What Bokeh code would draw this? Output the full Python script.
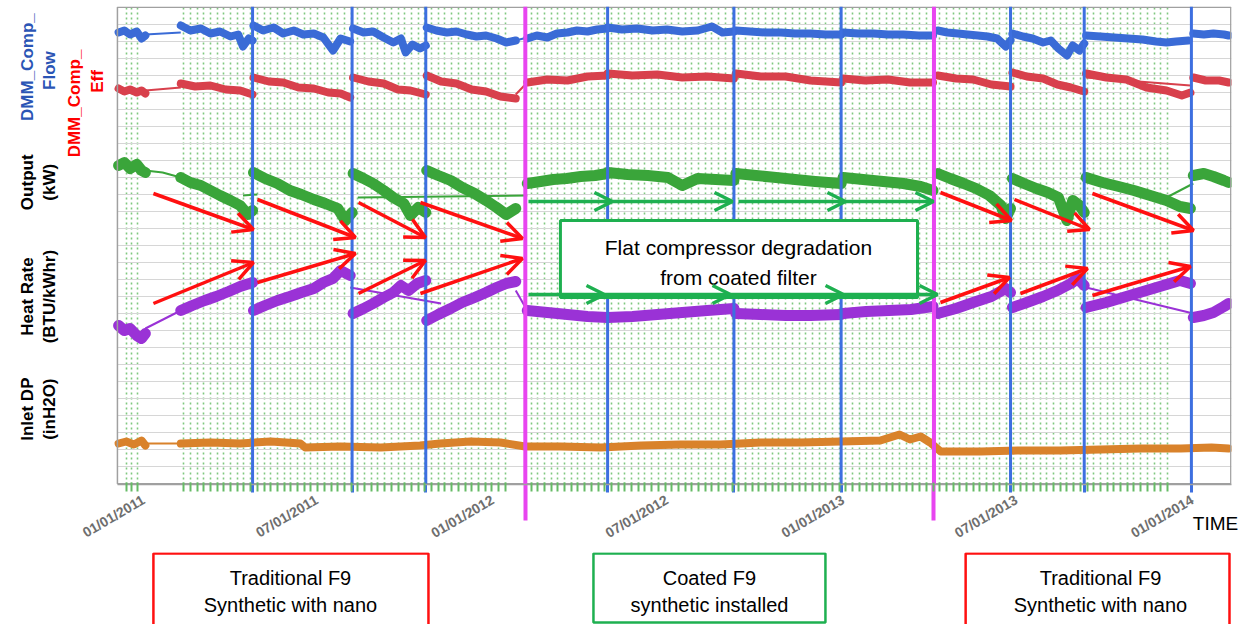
import math
import pandas as pd
from bokeh.plotting import figure
from bokeh.models import (Range1d, FixedTicker, Grid, Label, Arrow, OpenHead,
                          DatetimeTickFormatter, DatetimeAxis)
from bokeh.layouts import column, row
from bokeh.embed import file_html
from bokeh.resources import INLINE

# ---------------------------------------------------------------- data
# x values are days counted from 2011-01-01, y values are in plot units
BASE_MS = pd.Timestamp("2011-01-01").value / 1e6
DAY_MS = 86400000.0


def t(d):
    return BASE_MS + d * DAY_MS


def tl(lst):
    return [t(d) for d in lst]


tick_dates = ["2011-01-01", "2011-07-01", "2012-01-01", "2012-07-01",
              "2013-01-01", "2013-07-01", "2014-01-01"]

# offline wash events (blue) and filter changes (magenta)
wash_days = [114, 218, 295, 485, 617, 729, 906, 983, 1095]
filter_change_days = [399, 826]

# DMM_Comp_Flow
flow_days = [
    [-26, -20, -14, -7, -2, 2],
    [39, 49, 60, 70, 80, 91, 99, 104, 110, 114],
    [115, 125, 136, 146, 157, 167, 178, 188, 198, 206, 216],
    [219, 230, 240, 251, 261, 269, 274, 281, 289, 295],
    [296, 306, 317, 327, 338, 348, 358, 369, 379, 389],
    [401, 411, 422, 432, 443, 453, 464, 474, 485],
    [485, 500, 516, 532, 547, 563, 579, 594, 605, 617],
    [619, 634, 650, 666, 681, 697, 713, 729],
    [731, 747, 763, 778, 794, 810, 825],
    [830, 840, 851, 861, 872, 882, 892, 901, 906],
    [908, 919, 929, 940, 948, 956, 965, 971, 978, 983],
    [985, 1000, 1014, 1029, 1044, 1058, 1069, 1079, 1092],
    [1097, 1108, 1118, 1129, 1134],
]
flow_vals = [
    [454, 456, 452, 455, 448, 451],
    [461, 456, 458, 453, 455, 450, 452, 440, 448, 446],
    [461, 456, 459, 453, 456, 452, 453, 449, 436, 448, 445],
    [458, 454, 455, 449, 444, 448, 434, 442, 438, 441],
    [459, 456, 454, 455, 452, 450, 451, 448, 444, 446],
    [448, 451, 449, 453, 454, 456, 455, 457, 458],
    [459, 457, 458, 456, 457, 455, 456, 460, 454, 455],
    [456, 455, 454, 454, 453, 453, 452, 452],
    [454, 453, 453, 452, 452, 451, 451],
    [456, 454, 453, 452, 451, 450, 448, 440, 446],
    [453, 450, 448, 444, 446, 438, 431, 441, 436, 443],
    [451, 450, 449, 448, 447, 445, 444, 445, 446],
    [453, 452, 453, 452, 451],
]
flow_link_days = [[2, 39], [389, 401]]
flow_link_vals = [[452, 454], [446, 449]]

# DMM_Comp_Eff
eff_days = [
    [-26, -20, -14, -7, -2, 2],
    [39, 54, 70, 86, 101, 114],
    [115, 131, 146, 162, 178, 193, 206, 216],
    [219, 235, 251, 266, 279, 295],
    [296, 311, 327, 343, 358, 373, 389],
    [401, 422, 443, 464, 485],
    [485, 511, 537, 563, 589, 617],
    [619, 645, 671, 697, 729],
    [731, 754, 778, 801, 825],
    [830, 849, 867, 886, 906],
    [908, 923, 940, 955, 969, 983],
    [985, 1006, 1027, 1048, 1069, 1085, 1094],
    [1097, 1110, 1124, 1134],
]
eff_vals = [
    [398, 395, 397, 394, 396, 393],
    [403, 400, 401, 397, 396, 392],
    [409, 405, 404, 399, 398, 394, 393, 389],
    [409, 405, 403, 397, 396, 392],
    [411, 405, 403, 397, 395, 390, 388],
    [404, 407, 406, 410, 411],
    [413, 411, 412, 409, 410, 408],
    [413, 410, 410, 406, 404],
    [408, 406, 407, 404, 404],
    [411, 408, 407, 402, 400],
    [414, 410, 408, 402, 399, 395],
    [413, 409, 407, 399, 396, 391, 394],
    [409, 406, 406, 404],
]
eff_link_days = [[2, 39], [389, 401], [985, 1094]]
eff_link_vals = [[396, 399], [392, 404], [409, 401]]

# Output (kW)
out_days = [
    [-26, -20, -14, -7, -2, 2],
    [39, 49, 60, 70, 80, 91, 101, 109, 114],
    [115, 127, 140, 153, 165, 178, 190, 203, 211, 218],
    [219, 230, 240, 251, 261, 272, 279, 287, 295],
    [296, 308, 321, 333, 346, 358, 369, 379, 389],
    [401, 415, 428, 442, 457, 472, 485],
    [485, 506, 527, 548, 563, 579, 598, 617],
    [619, 640, 661, 681, 702, 729],
    [731, 752, 773, 794, 812, 825],
    [830, 843, 857, 870, 884, 896, 901, 906],
    [908, 920, 933, 945, 956, 965, 971, 978, 983],
    [985, 1002, 1019, 1035, 1052, 1069, 1083, 1094],
    [1097, 1108, 1118, 1129, 1134],
]
out_vals = [
    [321, 324, 318, 322, 316, 314],
    [309, 304, 301, 296, 291, 286, 281, 272, 276],
    [314, 308, 303, 296, 292, 287, 283, 278, 266, 274],
    [313, 308, 303, 296, 289, 283, 271, 279, 274],
    [316, 311, 306, 299, 293, 286, 279, 272, 278],
    [303, 305, 307, 308, 310, 311, 313],
    [314, 312, 311, 309, 301, 308, 307, 306],
    [313, 311, 309, 307, 305, 303],
    [309, 307, 305, 303, 300, 296],
    [313, 308, 303, 298, 291, 281, 268, 278],
    [308, 303, 298, 294, 289, 266, 286, 281, 274],
    [309, 304, 300, 296, 291, 286, 280, 278],
    [311, 313, 310, 306, 304],
]
out_link_days = [[2, 20, 39], [104, 119], [224, 401], [1063, 1097]]
out_link_vals = [[316, 314, 309], [291, 292], [289, 291], [286, 303]]

# Heat Rate (BTU/kWhr)
heat_days = [
    [-26, -20, -14, -7, -2, 2],
    [39, 51, 64, 76, 89, 101, 114],
    [115, 127, 140, 153, 165, 178, 188, 198, 206, 216],
    [219, 230, 240, 251, 261, 269, 277, 286, 295],
    [296, 308, 321, 333, 346, 358, 369, 379, 389],
    [401, 422, 443, 464, 485],
    [485, 511, 537, 563, 589, 617],
    [619, 645, 671, 697, 729],
    [731, 755, 779, 802, 825],
    [830, 849, 867, 886, 901, 906],
    [908, 923, 940, 955, 969, 976, 983],
    [985, 1006, 1027, 1048, 1069, 1083, 1094],
    [1097, 1108, 1118, 1129, 1134],
]
heat_vals = [
    [161, 156, 158, 151, 148, 153],
    [176, 181, 186, 190, 195, 200, 204],
    [176, 181, 186, 190, 194, 198, 204, 208, 216, 211],
    [173, 178, 183, 189, 194, 201, 196, 203, 206],
    [166, 172, 178, 184, 189, 194, 199, 203, 205],
    [176, 174, 172, 170, 169],
    [169, 170, 172, 174, 176, 178],
    [173, 172, 171, 171, 172],
    [173, 175, 176, 177, 180],
    [173, 178, 184, 190, 198, 194],
    [179, 184, 190, 196, 203, 208, 201],
    [179, 184, 190, 196, 202, 206, 203],
    [169, 171, 174, 180, 183],
]
heat_link_days = [[2, 39], [216, 311], [389, 401], [985, 1097]]
heat_link_vals = [[158, 176], [199, 183], [196, 176], [199, 173]]

# Inlet DP (inH2O)
dp_days = [
    [-26, -18, -10, -2, 2],
    [39, 70, 101, 133, 164, 169, 206, 248, 289, 310, 342, 373, 399,
     436, 478, 520, 561, 603, 645, 687, 729, 770, 790, 801, 812, 822,
     833, 875, 916, 958, 1000, 1042, 1084, 1116, 1134],
]
dp_vals = [
    [43, 45, 42, 46, 41],
    [43, 44, 43, 45, 43, 39, 40, 39, 41, 43, 45, 44, 40,
     40, 39, 41, 42, 42, 44, 44, 45, 46, 52, 47, 50, 44,
     35, 35, 36, 36, 37, 38, 38, 39, 38],
]
dp_link_days = [[2, 39]]
dp_link_vals = [[43, 43]]

# dotted marker grid (weekly records) and horizontal grid
record_grid_days = [-18, -12, -6] + list(range(42, 381, 7)) + list(range(405, 1076, 7))
h_grid_vals = list(range(20, 480, 17))

# ---------------------------------------------------------------- styles
C_FLOW = "#3A6BD6"
C_EFF = "#D8404C"
C_OUT = "#3AA53A"
C_HEAT = "#9A32D6"
C_DP = "#D9822B"
C_WASH = "#3D6FE0"
C_MAG = "#E845F0"
C_RED = "#FF1010"
C_GRN = "#1EB050"
FONT = "Liberation Sans"

W_TOTAL = 1240
W_LEFT = 62
H_TOP = 552
H_BOT = 72
CHART_START = -27.2
CHART_END = 1136.9
TIME_CAPTION_DAY = 1120.2   # where the "TIME" caption is centred

x_range = Range1d(t(-84.6), t(CHART_END))
p = figure(width=W_TOTAL - W_LEFT, height=H_TOP, x_range=x_range,
           y_range=Range1d(2, 480), x_axis_type=None, y_axis_type=None,
           output_backend="svg", toolbar_location=None,
           min_border_left=0, min_border_right=9, min_border_top=6,
           min_border_bottom=68)
p.background_fill_color = "white"
p.outline_line_color = None

p.add_layout(Grid(dimension=0, ticker=FixedTicker(ticks=tl(record_grid_days)),
                  grid_line_color="#80c880", grid_line_dash="2 3",
                  grid_line_width=1.6))
p.segment(x0=[t(CHART_START)] * len(h_grid_vals), y0=h_grid_vals,
          x1=[t(CHART_END)] * len(h_grid_vals), y1=h_grid_vals,
          line_color="#d6d6d6", line_width=1)


def tick_only_axis(days, color, width, length):
    ticks = tl(days)
    return DatetimeAxis(ticker=FixedTicker(ticks=ticks, minor_ticks=[]),
                        axis_line_color=None, major_tick_line_color=color,
                        major_tick_line_width=width, major_tick_in=-length,
                        major_tick_out=0, minor_tick_line_color=None,
                        major_label_overrides={tk: "" for tk in ticks},
                        major_label_text_color=None,
                        major_label_text_font_size="1px",
                        major_label_standoff=0)


# tick-only axes carrying the event marks below the frame
p.add_layout(tick_only_axis(filter_change_days, C_MAG, 4, 36), "below")
p.add_layout(tick_only_axis(wash_days, C_WASH, 3, 8), "below")

fmt = "%m/%d/%Y"
date_axis = DatetimeAxis(
    bounds=(t(CHART_START), t(CHART_END)),
    ticker=FixedTicker(ticks=[pd.Timestamp(s).value / 1e6 for s in tick_dates],
                       minor_ticks=tl(record_grid_days)),
    formatter=DatetimeTickFormatter(
        microseconds=fmt, milliseconds=fmt, seconds=fmt, minsec=fmt, minutes=fmt,
        hourmin=fmt, hours=fmt, days=fmt, months=fmt, years=fmt),
    major_label_orientation=0.53,
    major_tick_line_color=None, major_tick_out=0, major_tick_in=0,
    minor_tick_line_color="#66bb66", minor_tick_line_width=2,
    minor_tick_in=2, minor_tick_out=7,
    axis_line_color="#a0a0a0", axis_line_width=1.5,
    major_label_text_color="#6e6e6e", major_label_text_font=FONT,
    major_label_text_font_style="bold", major_label_text_font_size="14px",
    major_label_standoff=7)
p.add_layout(date_axis, "below")

# the "TIME" caption, carried by a label-only axis pulled up under the dates
time_tick = t(TIME_CAPTION_DAY)
time_axis = DatetimeAxis(
    ticker=FixedTicker(ticks=[time_tick], minor_ticks=[]),
    major_label_overrides={time_tick: "TIME"},
    major_label_orientation="horizontal",
    axis_line_color=None, major_tick_line_color=None, minor_tick_line_color=None,
    major_tick_in=0, major_tick_out=0,
    major_label_text_font=FONT, major_label_text_font_size="19px",
    major_label_text_color="black", major_label_standoff=-38)
p.add_layout(time_axis, "below")


def draw_series(seg_days, seg_vals, link_days, link_vals, color, width):
    p.multi_line(xs=[tl(s) for s in link_days], ys=link_vals,
                 line_color=color, line_width=2)
    p.multi_line(xs=[tl(s) for s in seg_days], ys=seg_vals,
                 line_color=color, line_width=width,
                 line_join="round", line_cap="round")


draw_series(flow_days, flow_vals, flow_link_days, flow_link_vals, C_FLOW, 8)
draw_series(eff_days, eff_vals, eff_link_days, eff_link_vals, C_EFF, 8)
draw_series(out_days, out_vals, out_link_days, out_link_vals, C_OUT, 11)
draw_series(heat_days, heat_vals, heat_link_days, heat_link_vals, C_HEAT, 11)
draw_series(dp_days, dp_vals, dp_link_days, dp_link_vals, C_DP, 8)

# chart border
p.quad(left=[t(CHART_START)], right=[t(1136.2)], bottom=[2.7], top=[479.3],
       fill_color=None, line_color="#a0a0a0", line_width=1.5)

# wash events
p.segment(x0=tl(wash_days), y0=[2] * len(wash_days),
          x1=tl(wash_days), y1=[480] * len(wash_days),
          line_color=C_WASH, line_width=3)

# filter changes
p.segment(x0=tl(filter_change_days), y0=[2] * len(filter_change_days),
          x1=tl(filter_change_days), y1=[480] * len(filter_change_days),
          line_color=C_MAG, line_width=4)

# callout box
p.quad(left=[t(435.7)], right=[t(808.8)], top=[266], bottom=[189],
       fill_color="white", line_color=C_GRN, line_width=3)
p.add_layout(Label(x=t(621.7), y=239, text="Flat compressor degradation",
                   text_align="center", text_baseline="middle",
                   text_font=FONT, text_font_size="21px", text_color="black"))
p.add_layout(Label(x=t(621.7), y=209, text="from coated filter",
                   text_align="center", text_baseline="middle",
                   text_font=FONT, text_font_size="21px", text_color="black"))

# degradation arrows
red_arrows = [
    (10.4, 293, 114.9, 257), (119.1, 287, 221.5, 249), (224.7, 284, 294.7, 249),
    (289.4, 284, 396.0, 248), (832.8, 294, 907.0, 266), (910.1, 287, 988.5, 257),
    (991.6, 293, 1097.2, 256),
    (10.4, 183, 114.9, 224), (119.1, 204, 221.5, 233), (224.7, 193, 294.7, 226),
    (289.4, 193, 396.0, 228), (832.8, 184, 904.9, 209), (916.4, 193, 986.4, 218),
    (991.6, 191, 1094.0, 220),
]
for x0, y0, x1, y1 in red_arrows:
    p.add_layout(Arrow(end=OpenHead(size=20, line_color=C_RED, line_width=3.5),
                       x_start=t(x0), y_start=y0, x_end=t(x1), y_end=y1,
                       line_color=C_RED, line_width=3.5))

green_arrows = [
    (402.3, 285, 490.0, 285), (490.0, 285, 615.5, 285), (621.7, 285, 733.5, 285),
    (733.5, 285, 825.5, 285),
    (402.3, 192, 481.7, 192), (481.7, 192, 613.4, 192), (613.4, 192, 731.5, 192),
    (731.5, 192, 829.7, 192),
]
for x0, y0, x1, y1 in green_arrows:
    p.add_layout(Arrow(end=OpenHead(size=18, line_color=C_GRN, line_width=3.5),
                       x_start=t(x0), y_start=y0, x_end=t(x1), y_end=y1,
                       line_color=C_GRN, line_width=3.5))

# red row title (sits inside the main canvas, left of the chart)
for txt, d, y in [("DMM_Comp_", -72.1, 383), ("Eff", -48.1, 405)]:
    p.add_layout(Label(x=t(d), y=y, text=txt, angle=math.pi / 2,
                       text_align="center", text_baseline="middle",
                       text_font=FONT, text_font_size="17px",
                       text_font_style="bold", text_color="#FF0000"))

# ---------------------------------------------------------------- row titles
left = figure(width=W_LEFT, height=H_TOP, x_range=Range1d(0, W_LEFT),
              y_range=Range1d(486 - H_TOP, 486), x_axis_type=None, y_axis_type=None,
              output_backend="svg", toolbar_location=None,
              min_border_left=0, min_border_right=0, min_border_top=0,
              min_border_bottom=0)
left.outline_line_color = None

row_titles = [
    ("DMM_Comp_", 27, 416, "#2B55B5"), ("Flow", 49, 412, "#2B55B5"),
    ("Output", 27, 283, "black"), ("(kW)", 49, 283, "black"),
    ("Heat Rate", 27, 151, "black"), ("(BTU/kWhr)", 49, 151, "black"),
    ("Inlet DP", 27, 21, "black"), ("(inH2O)", 49, 21, "black"),
]
for txt, x, y, c in row_titles:
    left.add_layout(Label(x=x, y=y, text=txt, angle=math.pi / 2,
                          text_align="center", text_baseline="middle",
                          text_font=FONT, text_font_size="17px",
                          text_font_style="bold", text_color=c))

# ---------------------------------------------------------------- period boxes
box_left = [10.4, 470.2, 859.1]
box_right = [297.8, 712.6, 1134.8]
box_top = [71, 71, 71]
box_bottom = [-10, 2, -10]
box_color = [C_RED, C_GRN, C_RED]
box_line1 = ["Traditional F9", "Coated F9", "Traditional F9"]
box_line2 = ["Synthetic with nano", "synthetic installed", "Synthetic with nano"]
box_center = [153.6, 591.4, 1000.0]

pb = figure(width=W_TOTAL, height=H_BOT, x_range=x_range, y_range=Range1d(0, H_BOT),
            x_axis_type=None, y_axis_type=None,
            output_backend="svg", toolbar_location=None,
            min_border_left=W_LEFT, min_border_right=9, min_border_top=0,
            min_border_bottom=0)
pb.outline_line_color = None
pb.quad(left=tl(box_left), right=tl(box_right), top=box_top,
        bottom=box_bottom, fill_color=None, line_color=box_color, line_width=2.5)
for c, l1, l2 in zip(box_center, box_line1, box_line2):
    pb.add_layout(Label(x=t(c), y=47, text=l1, text_align="center",
                        text_baseline="middle", text_font=FONT,
                        text_font_size="20px", text_color="black"))
    pb.add_layout(Label(x=t(c), y=20, text=l2, text_align="center",
                        text_baseline="middle", text_font=FONT,
                        text_font_size="20px", text_color="black"))

layout = column(row(left, p), pb)
open("out.html", "w").write(file_html(layout, INLINE))
